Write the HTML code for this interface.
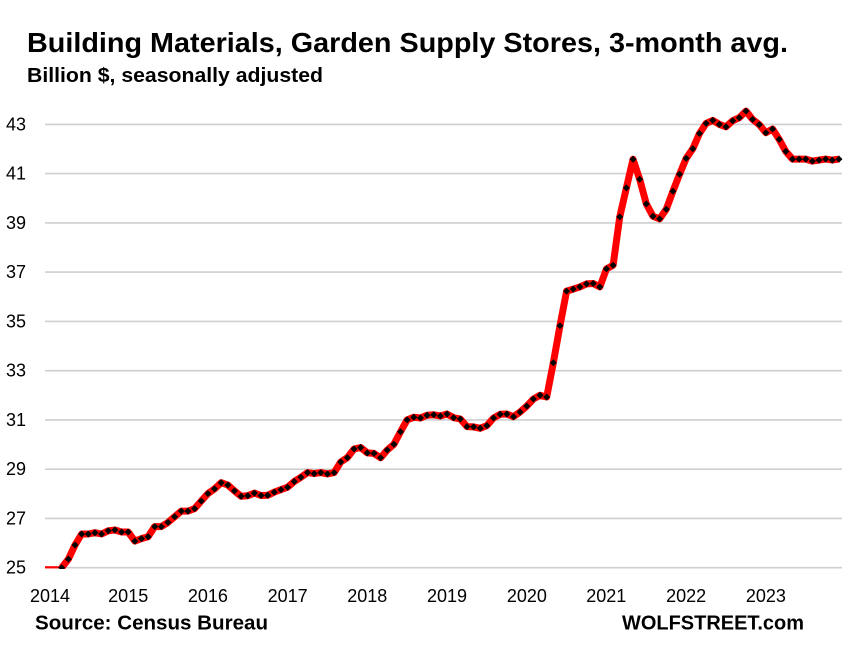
<!DOCTYPE html>
<html><head><meta charset="utf-8"><style>
html,body{margin:0;padding:0;background:#fff;}
svg{display:block;}
text{font-family:"Liberation Sans",Arial,sans-serif;fill:#000;}
</style></head><body>
<svg width="849" height="649" viewBox="0 0 849 649" xmlns="http://www.w3.org/2000/svg">
<defs>
<marker id="dm" markerUnits="userSpaceOnUse" markerWidth="8" markerHeight="8" refX="4" refY="4" viewBox="0 0 8 8">
<path d="M4 0.5 L7.5 4 L4 7.5 L0.5 4 Z" fill="#000"/>
</marker>
<clipPath id="pc"><rect x="40" y="90" width="809" height="479"/></clipPath>
</defs>
<rect width="849" height="649" fill="#fff"/>
<text x="27" y="52" font-size="28" font-weight="bold" textLength="761" lengthAdjust="spacingAndGlyphs">Building Materials, Garden Supply Stores, 3-month avg.</text>
<text x="27" y="82" font-size="20" font-weight="bold" textLength="296" lengthAdjust="spacingAndGlyphs">Billion $, seasonally adjusted</text>
<g stroke="#cfcfcf" stroke-width="1.6">
<line x1="45" y1="124.4" x2="842" y2="124.4"/>
<line x1="45" y1="173.6" x2="842" y2="173.6"/>
<line x1="45" y1="222.9" x2="842" y2="222.9"/>
<line x1="45" y1="272.1" x2="842" y2="272.1"/>
<line x1="45" y1="321.4" x2="842" y2="321.4"/>
<line x1="45" y1="370.7" x2="842" y2="370.7"/>
<line x1="45" y1="419.9" x2="842" y2="419.9"/>
<line x1="45" y1="469.2" x2="842" y2="469.2"/>
<line x1="45" y1="518.4" x2="842" y2="518.4"/>
<line x1="45" y1="567.7" x2="842" y2="567.7"/>
</g>
<g font-size="18" text-anchor="end">
<text x="26" y="130.4">43</text>
<text x="26" y="179.6">41</text>
<text x="26" y="228.9">39</text>
<text x="26" y="278.1">37</text>
<text x="26" y="327.4">35</text>
<text x="26" y="376.7">33</text>
<text x="26" y="425.9">31</text>
<text x="26" y="475.2">29</text>
<text x="26" y="524.4">27</text>
<text x="26" y="573.7">25</text>
</g>
<g font-size="18" text-anchor="middle">
<text x="50" y="602">2014</text>
<text x="128.2" y="602">2015</text>
<text x="207.9" y="602">2016</text>
<text x="287.6" y="602">2017</text>
<text x="367.3" y="602">2018</text>
<text x="447" y="602">2019</text>
<text x="526.9" y="602">2020</text>
<text x="606.3" y="602">2021</text>
<text x="686.1" y="602">2022</text>
<text x="765.9" y="602">2023</text>
</g>
<rect x="45" y="566.2" width="17" height="2.2" fill="#ff0000"/>
<g clip-path="url(#pc)">
<polyline fill="none" stroke="#ff0000" stroke-width="7" stroke-linejoin="round" stroke-linecap="butt" marker-start="url(#dm)" marker-mid="url(#dm)" marker-end="url(#dm)" points="61.74,567.7 68.38,559.1 75.02,545.0 81.67,534.0 88.31,534.0 94.95,532.7 101.59,534.0 108.24,530.8 114.88,530.0 121.52,532.0 128.17,532.0 134.81,541.1 141.45,538.6 148.10,536.7 154.74,526.6 161.38,526.6 168.02,522.4 174.67,516.7 181.31,511.1 187.95,511.1 194.60,508.6 201.24,501.0 207.88,493.6 214.53,488.9 221.17,482.7 227.81,485.0 234.45,490.9 241.10,496.3 247.74,495.8 254.38,493.1 261.03,495.5 267.67,495.3 274.31,492.1 280.96,489.6 287.60,487.2 294.24,481.5 300.88,477.3 307.53,472.6 314.17,473.6 320.81,472.6 327.46,473.9 334.10,472.6 340.74,462.0 347.39,457.6 354.03,449.0 360.67,447.5 367.31,452.9 373.96,453.4 380.60,457.8 387.24,450.0 393.89,444.3 400.53,431.7 407.17,419.9 413.82,417.2 420.46,418.0 427.10,415.2 433.74,414.8 440.39,416.0 447.03,414.0 453.67,417.7 460.32,419.0 466.96,426.6 473.60,426.9 480.25,428.3 486.89,425.6 493.53,418.0 500.17,414.3 506.82,414.0 513.46,416.7 520.10,412.0 526.75,406.1 533.39,399.0 540.03,395.3 546.68,397.0 553.32,362.8 559.96,325.8 566.60,291.1 573.25,289.1 579.89,286.9 586.53,283.9 593.18,283.5 599.82,286.9 606.46,268.9 613.11,265.2 619.75,216.9 626.39,187.9 633.03,159.3 639.68,179.3 646.32,203.9 652.96,216.2 659.61,218.9 666.25,209.3 672.89,191.3 679.54,174.3 686.18,158.4 692.82,148.7 699.46,133.5 706.11,123.4 712.75,120.4 719.39,124.4 726.04,126.8 732.68,120.7 739.32,117.7 745.97,111.1 752.61,119.4 759.25,124.6 765.89,132.7 772.54,129.0 779.18,139.4 785.82,151.4 792.47,159.1 799.11,159.1 805.75,159.1 812.40,161.1 819.04,160.1 825.68,159.1 832.32,160.1 838.97,159.1"/>
</g>
<text x="35" y="629.5" font-size="20" font-weight="bold" textLength="233" lengthAdjust="spacingAndGlyphs">Source: Census Bureau</text>
<text x="622" y="629.5" font-size="20" font-weight="bold" textLength="182" lengthAdjust="spacingAndGlyphs">WOLFSTREET.com</text>
</svg>
</body></html>
